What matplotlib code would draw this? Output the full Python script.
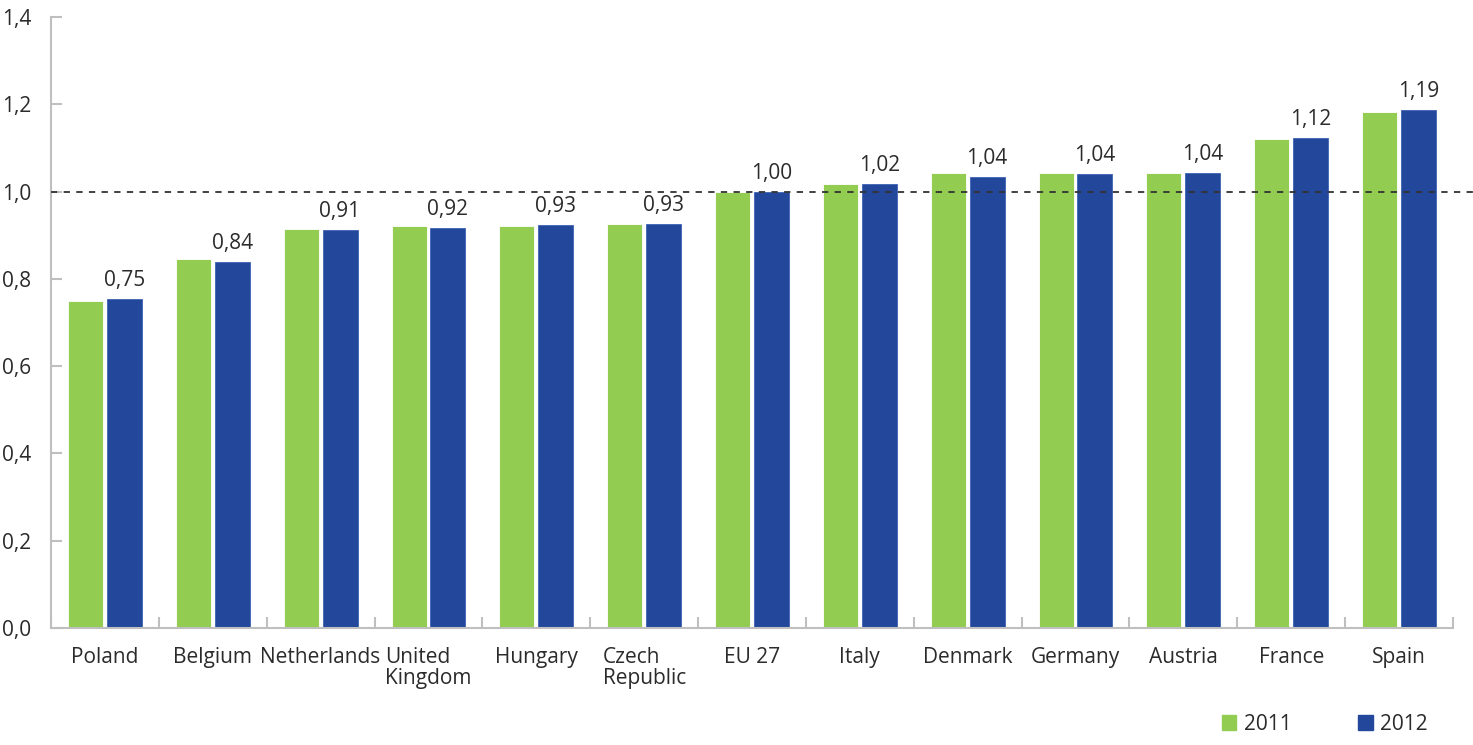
import matplotlib
matplotlib.use("Agg")
import matplotlib.pyplot as plt
from matplotlib.patches import Patch
import numpy as np

categories = ["Poland", "Belgium", "Netherlands", "United\nKingdom", "Hungary",
              "Czech\nRepublic", "EU 27", "Italy", "Denmark", "Germany",
              "Austria", "France", "Spain"]
values_2011 = [0.749, 0.846, 0.914, 0.921, 0.921, 0.926, 0.999, 1.017, 1.043, 1.043, 1.043, 1.120, 1.182]
values_2012 = [0.754, 0.839, 0.912, 0.917, 0.923, 0.926, 1.000, 1.017, 1.033, 1.040, 1.043, 1.123, 1.187]
labels_2012 = ["0,75", "0,84", "0,91", "0,92", "0,93", "0,93", "1,00", "1,02", "1,04", "1,04", "1,04", "1,12", "1,19"]
y_ticks = [0.0, 0.2, 0.4, 0.6, 0.8, 1.0, 1.2, 1.4]
y_ticklabels = ["0,0", "0,2", "0,4", "0,6", "0,8", "1,0", "1,2", "1,4"]
series_names = ["2011", "2012"]
reference_line = 1.0

plt.rcParams['font.family'] = ['Open Sans', 'DejaVu Sans']
TXT = "#2b2b2b"
GREEN = "#92CD52"
BLUE = "#22479B"
AXC = "#BFBFBF"

fig = plt.figure(figsize=(14.73, 7.45), dpi=100)
ax = fig.add_axes([51/1473, 1-628/745, (1453-51)/1473, (628-17)/745])

x = np.arange(len(categories))
w = 0.325
gap = 0.035
ax.bar(x - w/2 - gap/2, values_2011, width=w, color=GREEN, edgecolor="white", linewidth=0.6, zorder=2)
ax.bar(x + w/2 + gap/2, values_2012, width=w, color=BLUE, edgecolor="#3d63b5", linewidth=0.6, zorder=2)

for xi, v, lab in zip(x, values_2012, labels_2012):
    ax.text(xi + w/2 + gap/2, v + 0.018, lab, ha="center", va="bottom", fontsize=15, color=TXT)

ax.set_xlim(-0.5, len(categories) - 0.5)
ax.set_ylim(0, 1.4)

# reference dashed line extending beyond the axes to the figure edge
ax.plot([-0.5, len(categories) - 0.5 + 20/107.85], [reference_line, reference_line],
        ls=(0, (3.5, 3.5)), color="#333333", lw=1.3, clip_on=False, zorder=3)

for s in ["top", "right"]:
    ax.spines[s].set_visible(False)
for s in ["left", "bottom"]:
    ax.spines[s].set_color(AXC)
    ax.spines[s].set_linewidth(1.5)

ax.set_yticks(y_ticks)
ax.set_yticklabels(y_ticklabels, fontsize=15, color=TXT)
ax.tick_params(axis="y", direction="in", length=8, color=AXC, width=1.5, pad=14)

ax.set_xticks(np.arange(len(categories) + 1) - 0.5)
ax.set_xticklabels([])
ax.tick_params(axis="x", direction="in", length=8, color=AXC, width=1.5)

for xi, c in zip(x, categories):
    ax.text(xi, -0.043, c, ha="center", va="top", multialignment="left",
            fontsize=15, color=TXT, linespacing=1.0)

handles = [Patch(facecolor=GREEN, edgecolor=GREEN), Patch(facecolor=BLUE, edgecolor=BLUE)]
fig.legend(handles, series_names, loc="lower right", bbox_to_anchor=(1438/1473, 0.0),
           ncol=2, frameon=False, fontsize=15, handlelength=0.7, handleheight=0.7,
           handletextpad=0.35, columnspacing=3.2, labelcolor=TXT, borderaxespad=0.1)

fig.savefig("out.png", dpi=100)
